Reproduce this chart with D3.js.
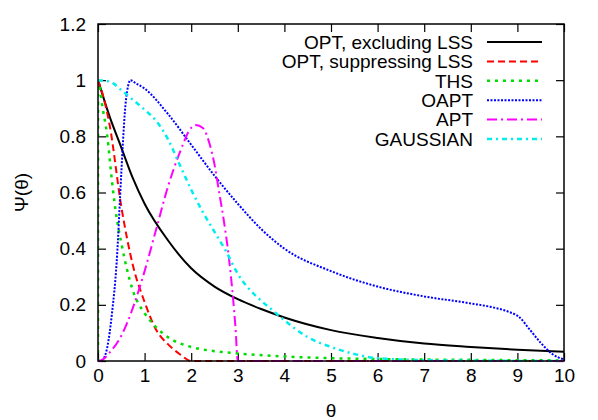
<!DOCTYPE html>
<html>
<head>
<meta charset="UTF-8">
<title>Psi(theta)</title>
<script src="https://cdn.jsdelivr.net/npm/d3@7"></script>
<style>
  body { margin: 0; background: #fff; }
  text { font-family: "Liberation Sans", Arial, sans-serif; fill: #000; }
  .frame { fill: none; stroke: #000; stroke-width: 1.5px; }
  .tick line { stroke: #000; stroke-width: 1.2px; }
  .curve { fill: none; }
</style>
</head>
<body>
<div id="chart"></div>
<script>
// axis ticks
var xTicks = [0, 1, 2, 3, 4, 5, 6, 7, 8, 9, 10];
var yTicks = [0, 0.2, 0.4, 0.6, 0.8, 1, 1.2];

// series
var optExclTheta = [0, 0.25, 0.5, 0.75, 1, 1.5, 2, 2.5, 3, 3.5, 4, 5, 6, 7, 8, 9, 10];
var optExclPsi   = [1, 0.87, 0.76, 0.65, 0.56, 0.43, 0.33, 0.265, 0.22, 0.185, 0.155, 0.11, 0.082, 0.062, 0.05, 0.04, 0.033];

var optSuppTheta = [0, 0.1, 0.25, 0.5, 0.75, 1, 1.25, 1.5, 1.75, 2, 3, 5, 10];
var optSuppPsi   = [1, 0.95, 0.84, 0.55, 0.34, 0.21, 0.11, 0.06, 0.025, 0, 0, 0, 0];

var thsTheta = [0, 0.002, 0.1, 0.2, 0.3, 0.4, 0.5, 0.75, 1, 1.25, 1.5, 2, 2.5, 3, 4, 5, 6, 8, 10];
var thsPsi   = [0, 1, 0.9, 0.8, 0.64, 0.51, 0.42, 0.25, 0.17, 0.12, 0.085, 0.05, 0.035, 0.027, 0.016, 0.01, 0.007, 0.004, 0.002];

var oaptTheta = [0, 0.1, 0.2, 0.3, 0.4, 0.5, 0.55, 0.6, 0.7, 0.8, 1, 1.5, 2, 2.5, 3, 3.5, 4, 5, 6, 7, 8, 8.5, 8.8, 9.05, 9.25, 9.5, 9.75, 10];
var oaptPsi   = [0, 0.005, 0.05, 0.17, 0.35, 0.67, 0.82, 0.93, 1.0, 0.99, 0.97, 0.88, 0.77, 0.66, 0.56, 0.47, 0.40, 0.32, 0.265, 0.23, 0.205, 0.19, 0.176, 0.155, 0.115, 0.065, 0.025, 0.005];

var aptTheta = [0, 0.1, 0.25, 0.5, 0.75, 1, 1.25, 1.5, 1.75, 2, 2.1, 2.25, 2.4, 2.5, 2.6, 2.7, 2.8, 2.9, 2.95, 3, 4, 10];
var aptPsi   = [0, 0.005, 0.03, 0.09, 0.19, 0.32, 0.47, 0.62, 0.74, 0.83, 0.84, 0.83, 0.77, 0.70, 0.60, 0.50, 0.38, 0.22, 0.12, 0, 0, 0];

var gaussTheta = [0, 0.25, 0.5, 0.75, 1, 1.25, 1.5, 1.75, 2, 2.25, 2.5, 2.75, 3, 3.25, 3.5, 3.75, 4, 4.5, 5, 5.5, 6, 7, 8, 10];
var gaussPsi   = [1, 0.995, 0.965, 0.93, 0.895, 0.855, 0.79, 0.70, 0.61, 0.53, 0.46, 0.39, 0.31, 0.255, 0.215, 0.18, 0.145, 0.085, 0.05, 0.025, 0.01, 0.003, 0.001, 0];

var seriesNames  = ["OPT, excluding LSS", "OPT, suppressing LSS", "THS", "OAPT", "APT", "GAUSSIAN"];
var seriesColors = ["#000000", "#ff0000", "#00dd00", "#0000ff", "#ff00ff", "#00eeee"];
var seriesDash   = [null, "7,4", "3,5", "2,1.5", "10,4,2,4", "5,4,2,4"];
var seriesWidth  = [2, 2, 2.5, 2, 2, 2.5];
var seriesTheta  = [optExclTheta, optSuppTheta, thsTheta, oaptTheta, aptTheta, gaussTheta];
var seriesPsi    = [optExclPsi, optSuppPsi, thsPsi, oaptPsi, aptPsi, gaussPsi];

var width = 598, height = 420;
var pLeft = 98, pRight = 564, pTop = 24, pBottom = 361;
var fontSize = 19;

var x = d3.scaleLinear().domain([0, 10]).range([pLeft, pRight]);
var y = d3.scaleLinear().domain([0, 1.2]).range([pBottom, pTop]);

var svg = d3.select("#chart").append("svg")
  .attr("width", width)
  .attr("height", height);

svg.append("clipPath").attr("id", "clip")
  .append("rect")
  .attr("x", pLeft).attr("y", pTop - 2)
  .attr("width", pRight - pLeft).attr("height", pBottom - pTop + 3);

// axes with inward ticks, mirrored
function styleAxis(g) {
  g.select(".domain").remove();
  g.selectAll(".tick line").attr("stroke", "#000");
}
svg.append("g")
  .attr("transform", "translate(0," + pBottom + ")")
  .call(d3.axisBottom(x).tickValues(xTicks).tickSize(-8).tickPadding(8).tickFormat(d3.format("d")))
  .call(styleAxis)
  .selectAll("text").attr("font-size", fontSize).attr("font-family", "Liberation Sans, Arial, sans-serif");
svg.append("g")
  .attr("transform", "translate(0," + pTop + ")")
  .call(d3.axisTop(x).tickValues(xTicks).tickSize(-8).tickFormat(""))
  .call(styleAxis);
svg.append("g")
  .attr("transform", "translate(" + pLeft + ",0)")
  .call(d3.axisLeft(y).tickValues(yTicks).tickSize(-8).tickPadding(12).tickFormat(function(d){ return String(+d.toFixed(1)); }))
  .call(styleAxis)
  .selectAll("text").attr("font-size", fontSize).attr("font-family", "Liberation Sans, Arial, sans-serif");
svg.append("g")
  .attr("transform", "translate(" + pRight + ",0)")
  .call(d3.axisRight(y).tickValues(yTicks).tickSize(-8).tickFormat(""))
  .call(styleAxis);

// curves
var line = d3.line()
  .x(function(d){ return x(d[0]); })
  .y(function(d){ return y(d[1]); })
  .curve(d3.curveMonotoneX);

var plot = svg.append("g").attr("clip-path", "url(#clip)");
seriesNames.forEach(function(name, i) {
  var pts = d3.zip(seriesTheta[i], seriesPsi[i]);
  plot.append("path")
    .attr("class", "curve")
    .attr("d", line(pts))
    .attr("stroke", seriesColors[i])
    .attr("stroke-width", seriesWidth[i])
    .attr("stroke-dasharray", seriesDash[i]);
});

svg.append("rect")
  .attr("class", "frame")
  .attr("x", pLeft).attr("y", pTop)
  .attr("width", pRight - pLeft).attr("height", pBottom - pTop);

// legend
var legend = svg.append("g");
seriesNames.forEach(function(name, i) {
  var ly = 42 + i * 19.4;
  legend.append("text")
    .attr("x", 473).attr("y", ly)
    .attr("dy", "0.36em")
    .attr("text-anchor", "end")
    .attr("font-size", fontSize)
    .text(name);
  legend.append("line")
    .attr("x1", 487).attr("x2", 542)
    .attr("y1", ly).attr("y2", ly)
    .attr("stroke", seriesColors[i])
    .attr("stroke-width", seriesWidth[i])
    .attr("stroke-dasharray", seriesDash[i]);
});

// axis titles
svg.append("text")
  .attr("x", (pLeft + pRight) / 2).attr("y", 410)
  .attr("dy", "0.35em")
  .attr("text-anchor", "middle")
  .attr("font-size", fontSize)
  .text("θ");
svg.append("text")
  .attr("transform", "translate(21," + ((pTop + pBottom) / 2) + ") rotate(-90)")
  .attr("dy", "0.35em")
  .attr("text-anchor", "middle")
  .attr("font-size", fontSize)
  .text("Ψ(θ)");
</script>
</body>
</html>
